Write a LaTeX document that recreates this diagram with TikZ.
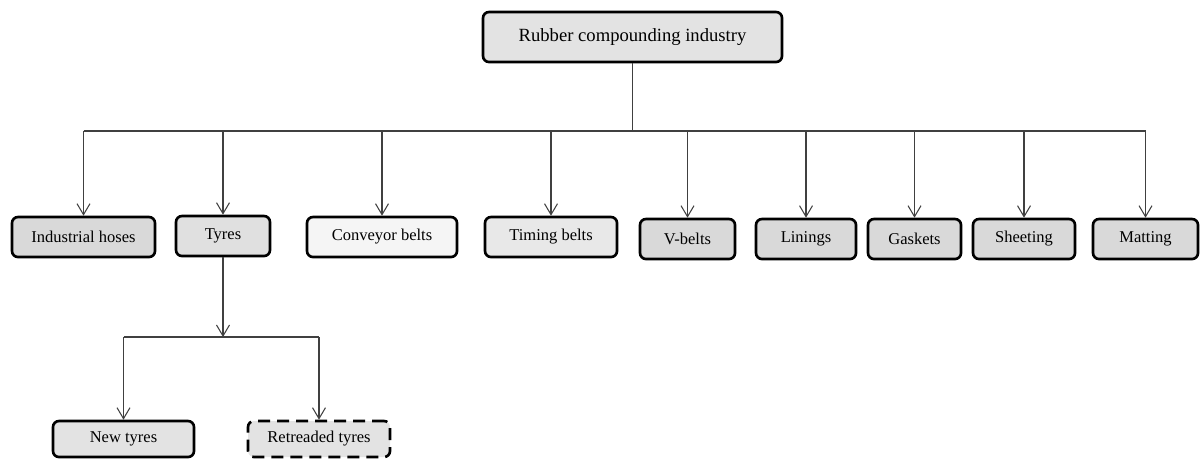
\documentclass[tikz,border=0pt]{standalone}
\usepackage{fontspec}
\setmainfont{Liberation Serif}
\usetikzlibrary{arrows.meta, calc, positioning}

\begin{document}
\begin{tikzpicture}[x=0.2mm, y=-0.2mm,
		box/.style={rectangle, rounded corners=1.2mm, draw, line width=1.5pt, fill=gray!30,
			minimum height=8mm, inner sep=0pt, font=\fontsize{9.4}{11}\selectfont},
		wire/.style={draw=black!75, line width=0.6pt}]
		\useasboundingbox (0, 0) rectangle (1200, 459);
		\begin{scope}
			\node[box, fill=gray!22, minimum width=59.8mm, minimum height=10mm, font=\fontsize{10.6}{12}\selectfont] (1) at (632.5, 37) {Rubber compounding industry};
			\node[box, minimum width=28.6mm] (21) at (83.5, 237) {Industrial hoses};
			\node[box, fill=gray!24, minimum width=18.8mm] (22) at (223, 236) {Tyres};
			\node[box, fill=gray!8, minimum width=30mm] (23) at (382, 237) {Conveyor belts};
			\node[box, fill=gray!18, minimum width=26.4mm] (24) at (551, 237) {Timing belts};
			\node[box, minimum width=19mm] (25) at (687.5, 239) {V-belts};
			\node[box, minimum width=20mm] (26) at (806, 239) {Linings};
			\node[box, minimum width=18.6mm] (27) at (914.5, 239) {Gaskets};
			\node[box, minimum width=20.4mm] (28) at (1024, 239) {Sheeting};
			\node[box, minimum width=21mm] (29) at (1145.5, 239) {Matting};
			\node[box, fill=gray!22, minimum width=28.2mm, minimum height=7.2mm] (31) at (123.5, 439) {New tyres};
			\node[box, fill=gray!22, dash pattern=on 2.4mm off 1.4mm, minimum width=28.4mm, minimum height=7.2mm] (32) at (319, 439) {Retreaded tyres};
			\coordinate (bus) at (632.5, 131);
			\coordinate (split) at (223, 337);
			\draw[wire] (1) -- (bus);
			\draw[wire] (bus -| 21) -- (bus -| 29);
			\draw[wire, -{Straight Barb[length=2.2mm, width=2.6mm]}] (bus -| 21) -- (21);
			\draw[wire, -{Straight Barb[length=2.2mm, width=2.6mm]}] (bus -| 22) -- (22);
			\draw[wire, -{Straight Barb[length=2.2mm, width=2.6mm]}] (bus -| 23) -- (23);
			\draw[wire, -{Straight Barb[length=2.2mm, width=2.6mm]}] (bus -| 24) -- (24);
			\draw[wire, -{Straight Barb[length=2.2mm, width=2.6mm]}] (bus -| 25) -- (25);
			\draw[wire, -{Straight Barb[length=2.2mm, width=2.6mm]}] (bus -| 26) -- (26);
			\draw[wire, -{Straight Barb[length=2.2mm, width=2.6mm]}] (bus -| 27) -- (27);
			\draw[wire, -{Straight Barb[length=2.2mm, width=2.6mm]}] (bus -| 28) -- (28);
			\draw[wire, -{Straight Barb[length=2.2mm, width=2.6mm]}] (bus -| 29) -- (29);
			\draw[wire, -{Straight Barb[length=2.2mm, width=2.6mm]}] (22) -- (split);
			\draw[wire] (split -| 31) -- (split -| 32);
			\draw[wire, -{Straight Barb[length=2.2mm, width=2.6mm]}] (split -| 31) -- (31);
			\draw[wire, -{Straight Barb[length=2.2mm, width=2.6mm]}] (split -| 32) -- (32);
		\end{scope}
	\end{tikzpicture}
\end{document}
